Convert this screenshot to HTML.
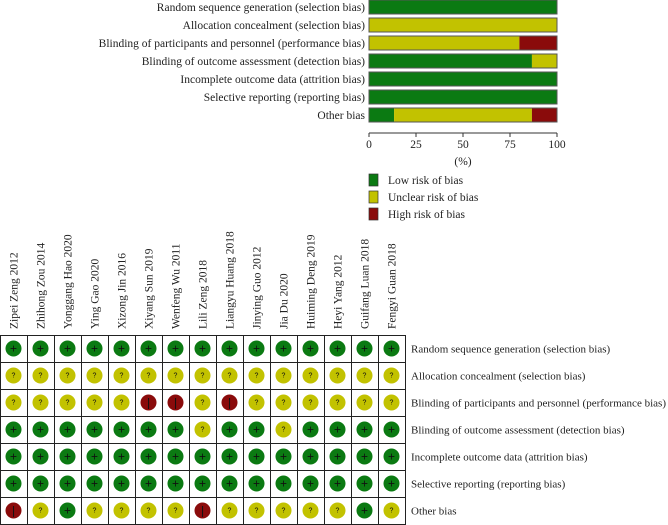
<!DOCTYPE html>
<html><head><meta charset="utf-8"><style>
html,body{margin:0;padding:0;background:#fff;}
svg{display:block;font-family:"Liberation Serif",serif;}
</style></head><body>
<svg id="chart" width="668" height="525"></svg>
<script>
const domains=["Random sequence generation (selection bias)","Allocation concealment (selection bias)","Blinding of participants and personnel (performance bias)","Blinding of outcome assessment (detection bias)","Incomplete outcome data (attrition bias)","Selective reporting (reporting bias)","Other bias"];
const studies=["Zipei Zeng 2012","Zhihong Zou 2014","Yonggang Hao 2020","Ying Gao 2020","Xizong Jin 2016","Xiyang Sun 2019","Wenfeng Wu 2011","Lili Zeng 2018","Liangyu Huang 2018","Jinying Guo 2012","Jia Du 2020","Huiming Deng 2019","Heyi Yang 2012","Guifang Luan 2018","Fengyi Guan 2018"];
const judgments=[
"+++++++++++++++",
"???????????????",
"?????--?-??????",
"+++++++?++?++++",
"+++++++++++++++",
"+++++++++++++++",
"-?+????-?????+?"];
const xTicks=[0,25,50,75,100];
const legendLabels=["Low risk of bias","Unclear risk of bias","High risk of bias"];
const COL={"+":"#0b7a12","?":"#c2c200","-":"#8a0b0b"};
const svg=document.getElementById('chart');const NS="http://www.w3.org/2000/svg";
function mk(t,a,p){const e=document.createElementNS(NS,t);for(const k in a)e.setAttribute(k,a[k]);(p||svg).appendChild(e);return e;}
const x0=369,x1=557;const xs=v=>x0+(x1-x0)*v/100;
const yRow=i=>7+i*18;
domains.forEach((d,i)=>{
 const t=mk('text',{x:365,y:yRow(i)+4,'text-anchor':'end','font-size':'11.5',fill:'#222'});t.textContent=d;
 
 
 const s=judgments[i];const n=s.length;
 const pcts=["+","?","-"].map(k=>100*s.split('').filter(c=>c===k).length/n);
 let acc=0;
 ["+","?","-"].forEach((k,j)=>{if(pcts[j]<=0)return;
  const r=mk('rect',{x:xs(acc),y:yRow(i)-7,width:xs(acc+pcts[j])-xs(acc),height:14,fill:COL[k]});
  
  
  acc+=pcts[j];});
 const b=mk('rect',{x:x0,y:yRow(i)-7,width:x1-x0,height:14,fill:'none',stroke:'#555','stroke-width':1});
 
 
});
const ax=mk('line',{x1:x0,x2:x1,y1:133,y2:133,stroke:'#333'});


xTicks.forEach(v=>{
 mk('line',{x1:xs(v),x2:xs(v),y1:133,y2:137,stroke:'#333'});
 const t=mk('text',{x:xs(v),y:148,'text-anchor':'middle','font-size':'11.5',fill:'#222'});t.textContent=v;
 
 
});
const xt=mk('text',{x:(x0+x1)/2,y:165,'text-anchor':'middle','font-size':'11.5',fill:'#222'});xt.textContent='(%)';


legendLabels.forEach((l,i)=>{
 const y=180+i*17;
 const r=mk('rect',{x:369,y:y-6,width:9,height:12,fill:COL[["+","?","-"][i]],stroke:'#333','stroke-width':0.7});
 
 
 const t=mk('text',{x:388,y:y+4,'font-size':'11.5',fill:'#222'});t.textContent=l;
 
 
});
const gx=0,gy=335,cw=27,rh=27;
studies.forEach((s,j)=>{
 const cx=gx+cw*j+cw/2;
 const t=mk('text',{x:0,y:0,'font-size':'11.5',fill:'#222',transform:`translate(${cx+4},${gy-6}) rotate(-90)`});t.textContent=s;
 
 
});
domains.forEach((d,i)=>{
 const cy=gy+rh*i+rh/2;
 const t=mk('text',{x:411,y:cy+4,'font-size':'11',fill:'#222'});t.textContent=d;
 if(d.length>50){t.setAttribute('textLength','255');t.setAttribute('lengthAdjust','spacingAndGlyphs');}
 
 
 studies.forEach((s,j)=>{
  const cx=gx+cw*j+cw/2;const k=judgments[i][j];
  const c=mk('rect',{x:gx+cw*j+0.5,y:gy+rh*i+0.5,width:cw,height:rh,fill:'#fff',stroke:'#222','stroke-width':1});
  
  
  const ci=mk('circle',{cx:cx,cy:cy,r:8,fill:COL[k]});
  
  
  const sym=mk('text',{x:cx,y:cy+(k==='?'?2:4),'text-anchor':'middle','font-size':k==='?'?'7':'12',fill:'#111','font-family':'"Liberation Sans",sans-serif'});
  sym.textContent=k==='-'?'|':(k==='?'?'?':'+');
  
  
 });
});
</script>
</body></html>
